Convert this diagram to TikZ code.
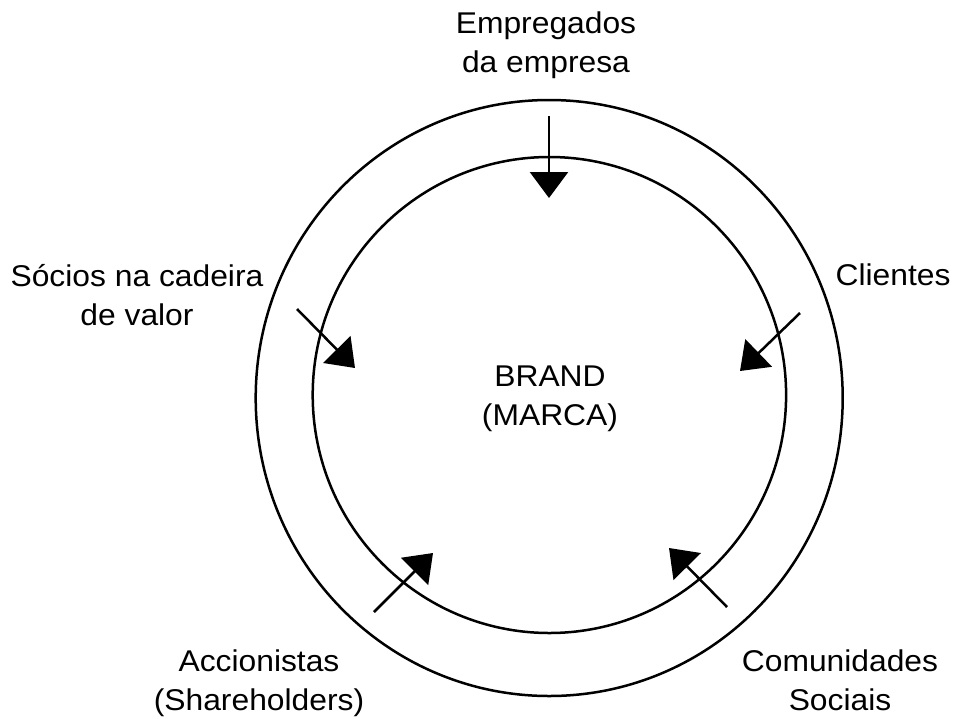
\documentclass[tikz,border=0pt]{standalone}
\usepackage{fontspec}
\setmainfont{Liberation Sans}[FakeStretch=1.06]
\usetikzlibrary{arrows.meta}

\tikzset{
  ring/.style={draw=black, line width=2.5pt},
  % anchor=base sits on the baseline of the last line
  label/.style={font=\fontsize{30}{39}\selectfont, align=center, inner sep=0pt, anchor=base},
  influence/.style={draw=black, line width=2.5pt, -{Triangle[length=26pt,width=38pt]}}
}

\begin{document}
\begin{tikzpicture}[x=1pt, y=-1pt]
  \useasboundingbox (0,0) rectangle (955,718);

  % the two rings around the brand
  \draw[ring] (549.2,398) ellipse [x radius=293.5, y radius=298];
  \draw[ring] (549.4,395) ellipse [x radius=236.7, y radius=238];

  % stakeholder groups
  \node[label] (brand) at (550,425) {BRAND\\(MARCA)};
  \node[label] (emp) at (546,72) {Empregados\\da empresa};
  \node[label] (soc) at (137,325) {Sócios na cadeira\\de valor};
  \node[label] (cli) at (893,285) {Clientes};
  \node[label] (acc) at (259,710) {Accionistas\\(Shareholders)};
  \node[label] (com) at (840,710) {Comunidades\\Sociais};

  % start and end points of the arrows
  \coordinate (empS) at (549,116);  \coordinate (empT) at (549,198);
  \coordinate (socS) at (297,309);  \coordinate (socT) at (355,368);
  \coordinate (cliS) at (800,313);  \coordinate (cliT) at (740,371);
  \coordinate (accS) at (374,612);  \coordinate (accT) at (433,553);
  \coordinate (comS) at (727,607);  \coordinate (comT) at (669,548);

  \draw[influence] (empS) -- (empT);
  \draw[influence] (socS) -- (socT);
  \draw[influence] (cliS) -- (cliT);
  \draw[influence] (accS) -- (accT);
  \draw[influence] (comS) -- (comT);
\end{tikzpicture}
\end{document}
